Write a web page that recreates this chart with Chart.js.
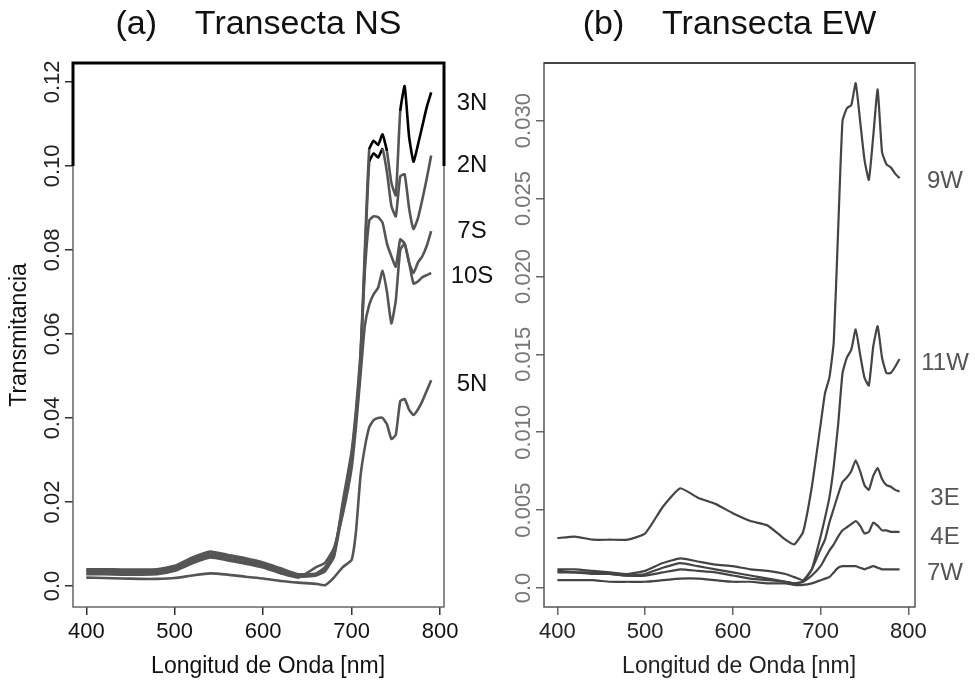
<!DOCTYPE html>
<html>
<head>
<meta charset="utf-8">
<script src="https://cdn.jsdelivr.net/npm/chart.js@4/dist/chart.umd.min.js"></script>
<style>
  body { margin: 0; background: #fff; }
  .panel { position: absolute; top: 0; height: 683px; }
  #left { left: 0; width: 500px; }
  #right { left: 490px; width: 485px; }
</style>
</head>
<body>
<div class="panel" id="left"><canvas id="chartNS"></canvas></div>
<div class="panel" id="right"><canvas id="chartEW"></canvas></div>
<script>
// ---- data ----
const wavelengths = [400, 420, 440, 460, 480, 500, 520, 540, 560, 580, 600, 620, 640,
  660, 670, 680, 690, 700, 705, 710, 715, 720, 725, 730, 735, 740, 745, 750, 755,
  760, 765, 770, 775, 780, 785, 790];

// (a) Transecta NS
const s3N = [0.0040, 0.0040, 0.0039, 0.0039, 0.0040, 0.0048, 0.0068, 0.0082, 0.0074, 0.0066, 0.0056, 0.0042, 0.0028,
  0.0030, 0.0045, 0.0080, 0.0190, 0.0310,
  0.0410, 0.0540, 0.0800, 0.1040, 0.1060, 0.1050, 0.1075, 0.1035, 0.0960, 0.0930, 0.1130, 0.1190, 0.1070, 0.1010, 0.1050, 0.1095, 0.1140, 0.1175];
const s2N = [0.0036, 0.0036, 0.0035, 0.0035, 0.0036, 0.0044, 0.0063, 0.0077, 0.0070, 0.0062, 0.0052, 0.0038, 0.0025,
  0.0028, 0.0040, 0.0070, 0.0180, 0.0300,
  0.0400, 0.0520, 0.0780, 0.1010, 0.1030, 0.1020, 0.1040, 0.0985, 0.0905, 0.0880, 0.0975, 0.0980, 0.0900, 0.0850, 0.0875, 0.0920, 0.0970, 0.1025];
const s7S = [0.0032, 0.0032, 0.0031, 0.0031, 0.0032, 0.0040, 0.0058, 0.0072, 0.0065, 0.0057, 0.0048, 0.0034, 0.0022,
  0.0025, 0.0035, 0.0070, 0.0200, 0.0320,
  0.0420, 0.0550, 0.0750, 0.0870, 0.0880, 0.0878, 0.0865, 0.0815, 0.0785, 0.0760, 0.0825, 0.0815, 0.0770, 0.0745, 0.0770, 0.0785, 0.0810, 0.0845];
const s10S = [0.0028, 0.0028, 0.0027, 0.0027, 0.0028, 0.0036, 0.0054, 0.0068, 0.0061, 0.0053, 0.0044, 0.0030, 0.0020,
  0.0045, 0.0055, 0.0090, 0.0170, 0.0280,
  0.0380, 0.0500, 0.0620, 0.0670, 0.0695, 0.0710, 0.0750, 0.0700, 0.0625, 0.0680, 0.0800, 0.0815, 0.0770, 0.0720, 0.0725, 0.0735, 0.0740, 0.0745];
const s5N = [0.0020, 0.0019, 0.0018, 0.0017, 0.0017, 0.0019, 0.0025, 0.0030, 0.0027, 0.0022, 0.0018, 0.0012, 0.0008,
  0.0005, 0.0002, 0.0020, 0.0045, 0.0062,
  0.0130, 0.0260, 0.0330, 0.0378, 0.0395, 0.0400, 0.0400, 0.0385, 0.0350, 0.0360, 0.0440, 0.0445, 0.0420, 0.0407, 0.0420, 0.0440, 0.0465, 0.0490];

// (b) Transecta EW
const s9W = [0.0032, 0.0033, 0.0031, 0.0031, 0.0031, 0.0035, 0.0052, 0.0064, 0.0058, 0.0054, 0.0048, 0.0043, 0.0040,
  0.0031, 0.0028, 0.0036, 0.0065, 0.0105,
  0.0125, 0.0135, 0.0158, 0.0230, 0.0300, 0.0308, 0.0310, 0.0324, 0.0300, 0.0275, 0.0262, 0.0290, 0.0320, 0.0280, 0.0272, 0.0270, 0.0266, 0.0263];
const s11W = [0.0010, 0.0010, 0.0009, 0.0009, 0.0008, 0.0009, 0.0013, 0.0016, 0.0014, 0.0012, 0.0010, 0.0008, 0.0006,
  0.0004, 0.0003, 0.0004, 0.0012, 0.0033,
  0.0045, 0.0058, 0.0078, 0.0105, 0.0138, 0.0148, 0.0153, 0.0166, 0.0150, 0.0135, 0.0130, 0.0155, 0.0168, 0.0148, 0.0138, 0.0138, 0.0142, 0.0147];
const s3E = [0.0012, 0.0012, 0.0011, 0.0010, 0.0009, 0.0011, 0.0016, 0.0019, 0.0017, 0.0015, 0.0014, 0.0012, 0.0011,
  0.0009, 0.0007, 0.0005, 0.0012, 0.0025,
  0.0031, 0.0042, 0.0051, 0.0060, 0.0068, 0.0071, 0.0075, 0.0082, 0.0075, 0.0066, 0.0063, 0.0072, 0.0077, 0.0070, 0.0066, 0.0065, 0.0063, 0.0062];
const s4E = [0.0011, 0.0010, 0.0010, 0.0009, 0.0008, 0.0008, 0.0010, 0.0012, 0.0011, 0.0010, 0.0008, 0.0006, 0.0005,
  0.0004, 0.0003, 0.0004, 0.0008, 0.0014,
  0.0019, 0.0024, 0.0028, 0.0033, 0.0037, 0.0039, 0.0041, 0.0043, 0.0040, 0.0035, 0.0036, 0.0042, 0.0040, 0.0037, 0.0037, 0.0036, 0.0036, 0.0036];
const s7W = [0.0005, 0.0005, 0.0005, 0.0004, 0.0004, 0.0004, 0.0005, 0.0006, 0.0006, 0.0005, 0.0004, 0.0004, 0.0003,
  0.0003, 0.0002, 0.0002, 0.0003, 0.0005,
  0.0006, 0.0007, 0.0010, 0.0013, 0.0014, 0.0014, 0.0014, 0.0014, 0.0013, 0.0012, 0.0013, 0.0014, 0.0013, 0.0012, 0.0012, 0.0012, 0.0012, 0.0012];

const nsNames = ["3N", "2N", "7S", "10S", "5N"];
const nsSeries = [s3N, s2N, s7S, s10S, s5N];
const nsLabelY = [0.115, 0.1002, 0.0843, 0.0736, 0.0481];
const ewNames = ["9W", "11W", "3E", "4E", "7W"];
const ewSeries = [s9W, s11W, s3E, s4E, s7W];
const ewLabelY = [0.0261, 0.0144, 0.00576, 0.00327, 0.00092];

const xTicks = [400, 500, 600, 700, 800];
const nsYTicks = [0, 0.02, 0.04, 0.06, 0.08, 0.10, 0.12];
const nsYTickLabels = ["0.0", "0.02", "0.04", "0.06", "0.08", "0.10", "0.12"];
const ewYTicks = [0, 0.005, 0.010, 0.015, 0.020, 0.025, 0.030];
const ewYTickLabels = ["0.0", "0.005", "0.010", "0.015", "0.020", "0.025", "0.030"];

const FONT = '"Liberation Sans", Arial, sans-serif';
Chart.defaults.font.family = FONT;

// box, panel title and curve names at the right edge
const panelDecor = {
    id: "panelDecor",
    afterDraw(chart, args, o) {
        const { ctx, chartArea: a, scales } = chart;
        ctx.save();
        ctx.strokeStyle = o.boxColor;
        ctx.lineWidth = 1.5;
        ctx.strokeRect(a.left, a.top, a.right - a.left, a.bottom - a.top);
        ctx.strokeStyle = o.topColor;
        ctx.lineWidth = o.topWidth;
        ctx.beginPath();
        if (o.darkAbove != null) {
            const yd = scales.y.getPixelForValue(o.darkAbove);
            ctx.moveTo(a.left, yd);
            ctx.lineTo(a.left, a.top);
            ctx.lineTo(a.right, a.top);
            ctx.lineTo(a.right, yd);
        } else {
            ctx.moveTo(a.left, a.top);
            ctx.lineTo(a.right, a.top);
        }
        ctx.stroke();

        ctx.fillStyle = o.titleColor;
        ctx.font = "34px " + FONT;
        ctx.textAlign = "center";
        ctx.textBaseline = "middle";
        ctx.fillText(o.title, (a.left + a.right) / 2, 25);

        ctx.fillStyle = o.labelColor;
        ctx.font = "24px " + FONT;
        o.names.forEach((t, i) => {
            ctx.fillText(t, a.right + o.labelGap, scales.y.getPixelForValue(o.labelY[i]));
        });
        ctx.restore();
    }
};

function makeChart(id, cfg) {
    return new Chart(document.getElementById(id), {
        type: "line",
        data: {
            labels: wavelengths,
            datasets: cfg.series.map((s, i) => ({
                label: cfg.names[i],
                data: wavelengths.map((w, j) => ({ x: w, y: s[j] })),
                borderColor: cfg.lineColor,
                borderWidth: cfg.lineWidth,
                pointRadius: 0,
                tension: 0.15,
                segment: cfg.darkAbove != null ? {
                    borderColor: c => (c.p0.parsed.y >= cfg.darkAbove && c.p1.parsed.y >= cfg.darkAbove) ? "#000" : undefined
                } : {}
            }))
        },
        options: {
            responsive: true,
            maintainAspectRatio: false,
            animation: false,
            layout: { padding: { top: 63, right: cfg.padRight, left: 0, bottom: 0 } },
            plugins: {
                legend: { display: false },
                tooltip: { enabled: false },
                panelDecor: {
                    title: cfg.title, titleColor: cfg.titleColor,
                    names: cfg.names, labelY: cfg.labelY, labelGap: cfg.labelGap, labelColor: cfg.labelColor,
                    boxColor: cfg.boxColor, topColor: cfg.topColor, topWidth: cfg.topWidth, darkAbove: cfg.darkAbove
                }
            },
            scales: {
                x: {
                    type: "linear",
                    min: cfg.xMin, max: cfg.xMax,
                    afterBuildTicks: sc => { sc.ticks = xTicks.map(v => ({ value: v })); },
                    afterFit: sc => { sc.height = 76; },
                    border: { display: false },
                    grid: { drawOnChartArea: false, drawTicks: true, tickLength: 8, color: cfg.axisColor, lineWidth: 1.5 },
                    ticks: { color: cfg.xTickColor, font: { size: 22 }, padding: 4, maxRotation: 0, callback: v => String(v) },
                    title: {
                        display: true, text: "\u00a0\u00a0\u00a0Longitud de Onda [nm]",
                        color: cfg.xTitleColor, font: { size: 23 }, padding: { top: 0, bottom: 3 }
                    }
                },
                y: {
                    type: "linear",
                    min: cfg.yMin, max: cfg.yMax,
                    afterBuildTicks: sc => { sc.ticks = cfg.yTicks.map(v => ({ value: v })); },
                    afterFit: sc => { sc.width = cfg.yWidth; },
                    border: { display: false },
                    grid: { drawOnChartArea: false, drawTicks: true, tickLength: 8, color: cfg.axisColor, lineWidth: 1.5 },
                    ticks: {
                        color: cfg.yTickColor, font: { size: 22 }, padding: cfg.yTickPad,
                        minRotation: 90, maxRotation: 90, crossAlign: "center",
                        callback: (v, i) => cfg.yTickLabels[i]
                    },
                    title: {
                        display: cfg.yTitle != null, text: cfg.yTitle || "",
                        color: "#111", font: { size: 23 }, padding: { top: 6, bottom: 0 }
                    }
                }
            }
        },
        plugins: [panelDecor]
    });
}

makeChart("chartNS", {
    series: nsSeries, names: nsNames, labelY: nsLabelY,
    title: "(a)\u00a0\u00a0\u00a0\u00a0Transecta NS", titleColor: "#111",
    xMin: 385, xMax: 804.5, yMin: -0.005, yMax: 0.1245,
    yTicks: nsYTicks, yTickLabels: nsYTickLabels, yWidth: 73, yTickPad: -9, padRight: 56,
    labelGap: 28, labelColor: "#111",
    lineColor: "#555", lineWidth: 2.6, darkAbove: 0.10,
    boxColor: "#666", topColor: "#000", topWidth: 3,
    axisColor: "#333", xTickColor: "#111", yTickColor: "#222", xTitleColor: "#111",
    yTitle: "Transmitancia"
});

makeChart("chartEW", {
    series: ewSeries, names: ewNames, labelY: ewLabelY,
    title: "(b)\u00a0\u00a0\u00a0\u00a0Transecta EW", titleColor: "#111",
    xMin: 384.7, xMax: 807.6, yMin: -0.00122, yMax: 0.0337,
    yTicks: ewYTicks, yTickLabels: ewYTickLabels, yWidth: 54, yTickPad: -15, padRight: 60,
    labelGap: 30, labelColor: "#555",
    lineColor: "#444", lineWidth: 2.2, darkAbove: null,
    boxColor: "#555", topColor: "#444", topWidth: 2.2,
    axisColor: "#666", xTickColor: "#222", yTickColor: "#777", xTitleColor: "#222",
    yTitle: null
});
</script>
</body>
</html>
